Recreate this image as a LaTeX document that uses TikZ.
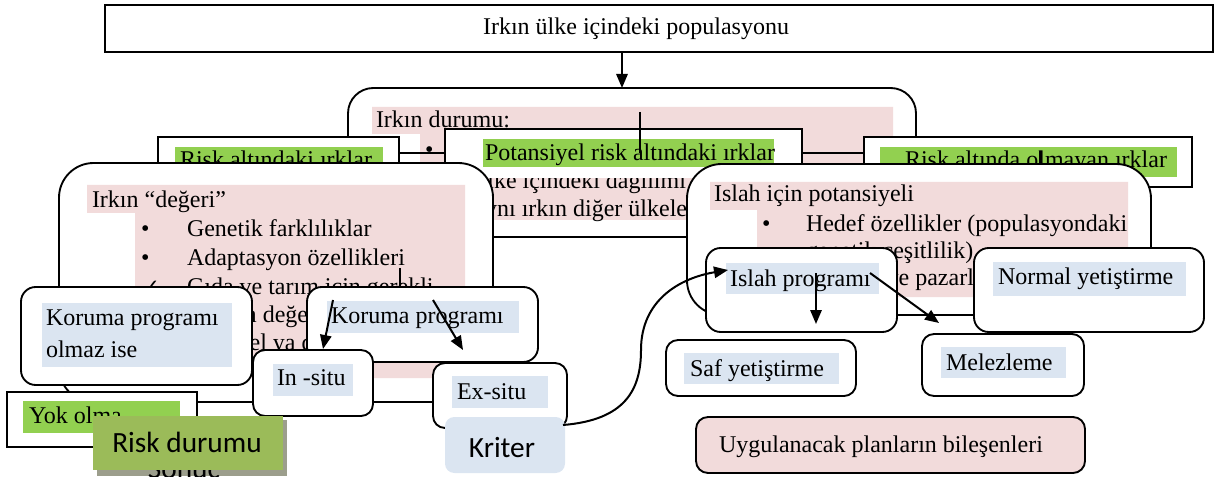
\documentclass[tikz,border=0pt]{standalone}
\usepackage{fontspec}
\setmainfont{Liberation Serif}
\newfontfamily\calfont{Carlito}
\newfontfamily\symfont{DejaVu Sans}
\usetikzlibrary{fit,calc,arrows.meta}
\definecolor{pinkbg}{HTML}{F2DBDB}
\definecolor{bluebg}{HTML}{DBE5F1}
\definecolor{greenhl}{HTML}{92D050}
\definecolor{rdgreen}{HTML}{9BBB59}
\definecolor{shadowc}{HTML}{9C9E8C}

\begin{document}
\begin{tikzpicture}[x=0.75pt,y=-0.75pt,
  every node/.style={inner sep=0pt, outer sep=0pt},
  frame/.style={draw=black, line width=1.4pt, fill=white},
  rframe/.style={frame, rounded corners=#1},
  txt/.style={anchor=base west, font=\fontsize{18}{20.7}\selectfont},
  ctxt/.style={anchor=base, font=\calfont\fontsize{22}{24}\selectfont},
  link/.style={draw=black, line width=1.5pt},
  arr/.style={link, -{Triangle[length=10.5pt,width=8.5pt]}},
]
\useasboundingbox (0,0) rectangle (1216,477);

% population box at the top
\node[frame, line width=1.2pt, fit={(105,5)(1213,52)}] (top) {};
\node[txt, anchor=base] (toptxt) at (636,35) {Irkın ülke içindeki populasyonu};

% breed status
\node[rframe=19pt, fit={(348,88)(916,237)}] (dur) {};
\fill[pinkbg] (372,107) -- (893,107) -- (893,220) -- (420,220) -- (420,134) -- (372,134) -- cycle;
\node[txt] (durt) at (376,128) {Irkın durumu:};
\node[txt] (durb2) at (470,189) {Ülke içindeki dağılımı};
\node[txt] (durb3) at (470,217) {Aynı ırkın diğer ülkelerdeki};

% risk categories
\node[frame, fit={(158,137)(399,170)}] (rar) {};
\fill[greenhl] (175,147) rectangle (383,176);
\node[txt] (rart) at (180,168) {Risk altındaki ırklar};

\node[fill=white, fit={(445,129)(802,178)}] (pot) {};
\fill[greenhl] (483,139) rectangle (774,167);
\node[txt] (pott) at (485,161) {Potansiyel risk altındaki ırklar};
\draw[link] (pot.south west) -- (pot.north west) -- (pot.north east) -- (pot.south east);

\node[frame, fit={(864,137)(1192,187)}] (olm) {};
\fill[greenhl] (880,147) rectangle (1177,177);
\node[txt] (olmt) at (905,168) {Risk altında olmayan ırklar};

\draw[link] (rar.east) -- (rar.east -| pot.west);
\draw[link] (pot.east) -- (pot.east -| olm.west);
\node[txt] (durb1) at (425,158) {•};
\coordinate (v1) at (640,112);
\draw[link] (v1) -- (v1 |- pot.center);
\coordinate (v2) at (1040,151);
\coordinate (v2e) at (1040,166);
\draw[link] (v2) -- (v2e);

% value of the breed
\node[rframe=26pt, fit={(59,163)(493,402)}] (deg) {};
\fill[pinkbg] (87,185) -- (465,185) -- (465,378) -- (135,378) -- (135,213) -- (87,213) -- cycle;
\node[txt] (degt) at (92,208) {Irkın “değeri”};
\node[txt] (degb1) at (141,237) {•};
\node[txt] (deg1) at (187,237) {Genetik farklılıklar};
\node[txt] (degb2) at (141,265) {•};
\node[txt] (deg2) at (187,265) {Adaptasyon özellikleri};
\node[txt, font=\symfont\fontsize{16}{18}\selectfont] (degb3) at (142,294) {✓};
\node[txt] (deg3) at (187,294) {Gıda ve tarım için gerekli};
\node[txt] (deg4) at (187,322) {Turizm değeri};
\node[txt] (deg5) at (187,350) {Kültürel ya da tarihsel değeri};

% breeding potential
\node[rframe=26pt, fit={(687,164)(1151,315)}] (isl) {};
\fill[pinkbg] (710,182) -- (1128,182) -- (1128,297) -- (757,297) -- (757,210) -- (710,210) -- cycle;
\node[txt] (islt) at (714,202) {Islah için potansiyeli};
\node[txt] (islb1) at (762,232) {•};
\node[txt] (isl1) at (806,232) {Hedef özellikler (populasyondaki};
\node[txt] (isl2) at (806,258) {genetik çeşitlilik)};
\node[txt] (islb3) at (762,285) {•};
\node[txt] (isl3) at (806,285) {Ürünler ve pazarlama};

% conservation
\coordinate (v3) at (400,268);
\node[rframe=11pt, fit={(21,287)(252,385)}] (kno) {};
\fill[bluebg] (42,303) rectangle (232,367);
\node[txt] (knot1) at (46,325) {Koruma programı};
\node[txt] (knot2) at (46,357) {olmaz ise};

\node[rframe=11pt, fit={(307,287)(538,362)}] (kor) {};
\fill[bluebg] (327,301) rectangle (519,333);
\node[txt] (kort) at (331,323) {Koruma programı};
\draw[link] (v3) -- (v3 |- kor.north);

\node[rframe=9pt, fit={(253,350)(373,416)}] (ins) {};
\fill[bluebg] (273,364) rectangle (353,396);
\node[txt] (inst) at (277,385) {In -situ};

\node[rframe=9pt, fit={(433,363)(567,428)}] (exs) {};
\fill[bluebg] (452,376) rectangle (548,408);
\node[txt] (exst) at (457,399) {Ex-situ};

\coordinate (k1) at (333,300);
\coordinate (k2) at (433,300);
\draw[arr] (k1) -- ($(ins.north)+(10,-1)$);
\draw[arr] (k2) -- ($(exs.north)+(-37,-13)$);

% extinction
\node[frame, fit={(7,392)(197,447)}] (yok) {};
\fill[greenhl] (23,401) rectangle (180,433);
\node[txt] (yokt) at (29,423) {Yok olma};

% risk status label
\fill[shadowc] (97,420) rectangle (287,476);
\node[ctxt] (son) at (184,478) {Sonuç};
\node[fill=rdgreen, fit={(93,416)(283,470)}] (rd) {};
\node[ctxt] (rdt) at (187,452) {Risk durumu};

% criteria label
\node[fill=bluebg, rounded corners=7pt, fit={(445,417)(565,473)}] (kri) {};
\node[ctxt] (krit) at (502,457) {Kriter};

% breeding programme
\node[rframe=11pt, fit={(706,248)(897,332)}] (ipr) {};
\fill[bluebg] (726,263) rectangle (879,294);
\node[txt] (iprt) at (730,286) {Islah programı};

\node[rframe=11pt, fit={(974,248)(1204,332)}] (nor) {};
\fill[bluebg] (993,262) rectangle (1186,296);
\node[txt] (nort) at (998,284) {Normal yetiştirme};

\node[rframe=9pt, fit={(666,340)(856,396)}] (saf) {};
\fill[bluebg] (684,353) rectangle (839,384);
\node[txt] (saft) at (690,376) {Saf yetiştirme};

\node[rframe=9pt, fit={(922,334)(1084,396)}] (mel) {};
\fill[bluebg] (941,347) rectangle (1066,378);
\node[txt] (melt) at (946,370) {Melezleme};

\node[rframe=9pt, fill=pinkbg, fit={(696,417)(1085,473)}] (uyg) {};
\node[txt] (uygt) at (719,452) {Uygulanacak planların bileşenleri};

\coordinate (p1) at (816,273);
\coordinate (p2) at (870,273);
\draw[arr] (p1) -- ($(saf.north)+(55,-16)$);
\draw[arr] (p2) -- ($(mel.north)+(-64,-11)$);

% criteria lead into the breeding programme
\draw[arr] ($(kri.north east)+(-2,8)$) .. controls (625,420) and (641,390) .. (641,350)
  .. controls (641,300) and (680,278) .. ($(ipr.west)+(22,-20)$);

% population feeds the status box
\coordinate (a1) at (622,52);
\draw[arr] (a1) -- (a1 |- dur.north);
\end{tikzpicture}
\end{document}
